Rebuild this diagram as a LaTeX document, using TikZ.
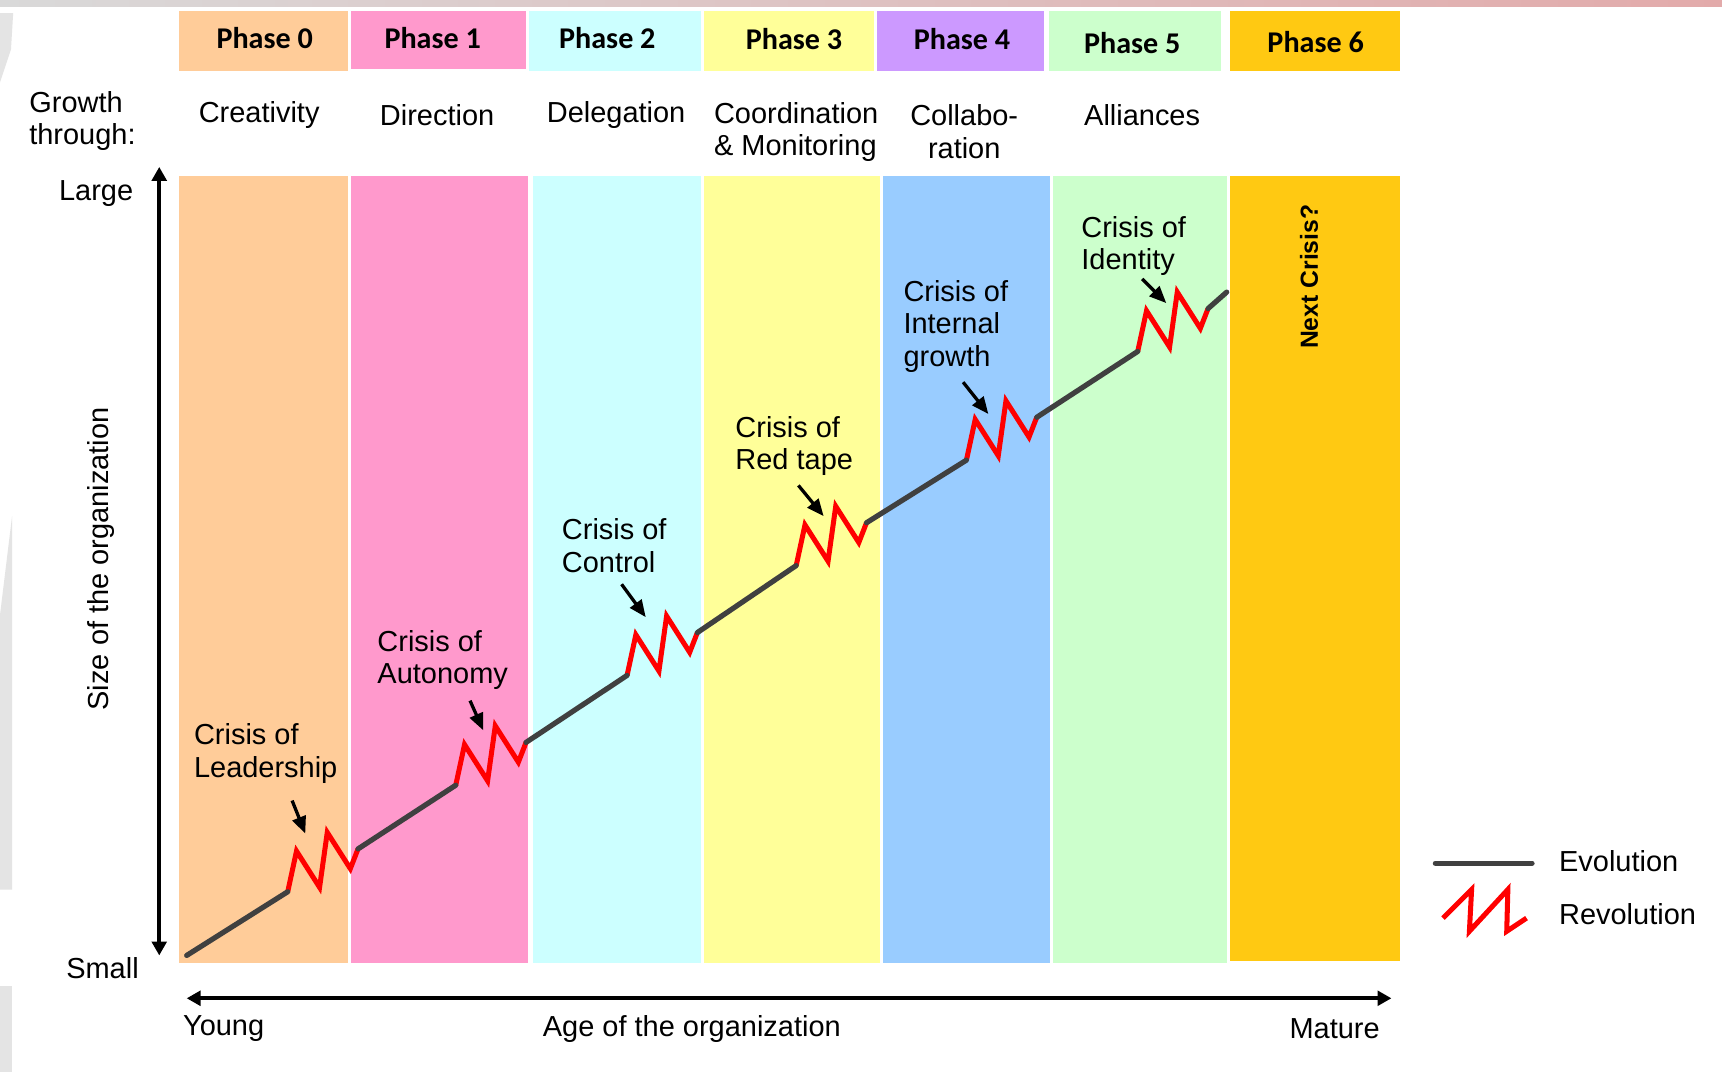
\documentclass[tikz,border=0pt]{standalone}
\usepackage{fontspec}
\setmainfont{Liberation Sans}
\newfontfamily\calib{Carlito}
\usetikzlibrary{arrows.meta}
\definecolor{c0}{HTML}{FFCC99}
\definecolor{c1}{HTML}{FF99CC}
\definecolor{c2}{HTML}{CCFFFF}
\definecolor{c3}{HTML}{FFFF99}
\definecolor{c4h}{HTML}{CC99FF}
\definecolor{c4}{HTML}{99CCFF}
\definecolor{c5}{HTML}{CCFFCC}
\definecolor{c6}{HTML}{FFC912}
\definecolor{evo}{HTML}{404040}
\definecolor{bggray}{HTML}{D9D9D9}
\definecolor{bgpink}{HTML}{E2AAAA}
\newcommand\revzig[1]{\draw[revo] (#1) -- ++(8,-37) -- ++(21,33) -- ++(7,-50) -- ++(21,33) -- ++(7,-18) coordinate (#1e);}
\begin{document}
\begin{tikzpicture}[x=0.01cm,y=-0.01cm,
 txt/.style={font=\fontsize{7.5}{8.4}\selectfont,inner sep=0pt,align=left},
 ctxt/.style={txt,align=center},
 phase/.style={font=\calib\bfseries\fontsize{7.8}{9}\selectfont,inner sep=0pt},
 evol/.style={draw=evo,line width=1.35pt,line cap=round},
 revo/.style={draw=red,line width=1.3pt,line join=miter},
 axis/.style={draw=black,line width=1.1pt,{Triangle[length=3.6pt,width=3.8pt]}-{Triangle[length=3.6pt,width=3.8pt]}},
 pointer/.style={draw=black,line width=0.85pt,-{Triangle[length=4.4pt,width=3.6pt]}}]
\useasboundingbox (0,0) rectangle (1568,976);
\fill[white] (0,0) rectangle (1568,976);
% slide background remnants
\shade[left color=bggray,right color=bgpink] (0,0) rectangle (1568,6);
\fill[bggray!70] (0,12) -- (12,12) -- (10,45) -- (0,75) -- cycle;
\fill[bggray!70] (0,560) -- (11,470) -- (11,810) -- (0,810) -- cycle;
\fill[bggray!70] (0,898) rectangle (11,976);
% phase headers
\fill[c0] (163,10) rectangle (317,65);
\fill[c1] (320,10) rectangle (479,63);
\fill[c2] (482,10) rectangle (638,65);
\fill[c3] (641,10) rectangle (796,65);
\fill[c4h] (799,10) rectangle (951,65);
\fill[c5] (955,10) rectangle (1112,65);
\fill[c6] (1120,10) rectangle (1275,65);
\node[phase] (p0) at (241,35) {Phase 0};
\node[phase] (p1) at (394,35) {Phase 1};
\node[phase] (p2) at (553,35) {Phase 2};
\node[phase] (p3) at (723,36) {Phase 3};
\node[phase] (p4) at (876,36) {Phase 4};
\node[phase] (p5) at (1031,39) {Phase 5};
\node[phase] (p6) at (1198,38) {Phase 6};
% growth through
\node[txt,anchor=west] (gt) at (26,110) {Growth\\through:};
\node[txt] (g0) at (236,105) {Creativity};
\node[txt] (g1) at (398,105) {Direction};
\node[txt] (g2) at (561,105) {Delegation};
\node[txt] (g3) at (725,120) {Coordination\\\& Monitoring};
\node[ctxt] (g4) at (878,120) {Collabo-\\ration};
\node[txt] (g5) at (1040,105) {Alliances};
% columns
\fill[c0] (163,160) rectangle (317,877);
\fill[c1] (320,160) rectangle (481,877);
\fill[c2] (485,160) rectangle (638,877);
\fill[c3] (641,160) rectangle (801,877);
\fill[c4] (804,160) rectangle (956,877);
\fill[c5] (959,160) rectangle (1117,877);
\fill[c6] (1120,160) rectangle (1275,875);
\node[font=\bfseries\fontsize{6.4}{7}\selectfont,inner sep=0pt,rotate=90] (nc) at (1192,252) {Next Crisis?};
% axes
\coordinate (vb) at (145,870);
\coordinate (vt) at (145,152);
\coordinate (hl) at (170,909);
\coordinate (hr) at (1267,909);
\draw[axis] (vb) -- (vt);
\draw[axis] (hl) -- (hr);
\node[txt,anchor=east] (large) at (122,176) {Large};
\node[txt,anchor=east] (small) at (127,882) {Small};
\node[txt,rotate=90] (size) at (92,509) {Size of the organization};
\node[txt,anchor=west] (young) at (166,937) {Young};
\node[txt] (age) at (630,937) {Age of the organization};
\node[txt,anchor=east] (mature) at (1257,937) {Mature};
% growth curve
\coordinate (e0) at (170,870);
\coordinate (z0) at (262,812);
\coordinate (z1) at (415,715);
\coordinate (z2) at (571,615);
\coordinate (z3) at (725,515);
\coordinate (z4) at (880,419);
\coordinate (z5) at (1036,320);
\coordinate (e7) at (1117,266);
\revzig{z0}
\revzig{z1}
\revzig{z2}
\revzig{z3}
\revzig{z4}
\revzig{z5}
\draw[evol] (e0) -- (z0);
\draw[evol] (z0e) -- (z1);
\draw[evol] (z1e) -- (z2);
\draw[evol] (z2e) -- (z3);
\draw[evol] (z3e) -- (z4);
\draw[evol] (z4e) -- (z5);
\draw[evol] (z5e) -- (e7);
% crisis labels
\node[txt,anchor=west] (k0) at (176,686) {Crisis of\\Leadership};
\node[txt,anchor=west] (k1) at (343,601) {Crisis of\\Autonomy};
\node[txt,anchor=west] (k2) at (511,497) {Crisis of\\Control};
\node[txt,anchor=west] (k3) at (669,406) {Crisis of\\Red tape};
\node[txt,anchor=west] (k4) at (822,297) {Crisis of\\Internal\\growth};
\node[txt,anchor=west] (k5) at (984,224) {Crisis of\\Identity};
\coordinate (a0s) at (266,729); \coordinate (a0e) at (278,759);
\coordinate (a1s) at (428,638); \coordinate (a1e) at (440,665);
\coordinate (a2s) at (566,532); \coordinate (a2e) at (588,562);
\coordinate (a3s) at (727,442); \coordinate (a3e) at (750,470);
\coordinate (a4s) at (877,348); \coordinate (a4e) at (900,377);
\coordinate (a5s) at (1040,254); \coordinate (a5e) at (1062,276);
\draw[pointer] (a0s) -- (a0e);
\draw[pointer] (a1s) -- (a1e);
\draw[pointer] (a2s) -- (a2e);
\draw[pointer] (a3s) -- (a3e);
\draw[pointer] (a4s) -- (a4e);
\draw[pointer] (a5s) -- (a5e);
% legend
\coordinate (l1) at (1307,786);
\coordinate (l2) at (1395,786);
\draw[evol] (l1) -- (l2);
\coordinate (r1) at (1314,836);
\draw[revo] (r1) -- (1340,810) -- (1338,848) -- (1373,810) -- (1372,848) -- (1390,836);
\node[txt,anchor=west] (levo) at (1419,784) {Evolution};
\node[txt,anchor=west] (lrev) at (1419,832) {Revolution};
\end{tikzpicture}
\end{document}
